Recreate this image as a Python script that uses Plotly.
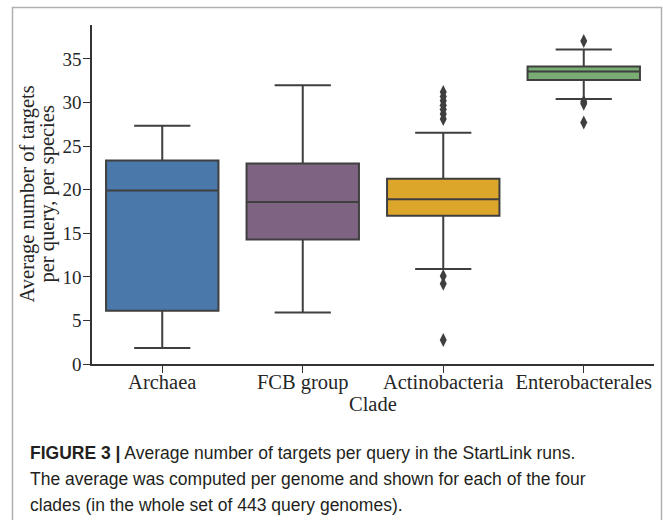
import plotly.graph_objects as go

categories = ["Archaea", "FCB group", "Actinobacteria", "Enterobacterales"]
q1 = [6.1, 14.3, 17.0, 32.6]
medians = [19.9, 18.6, 18.9, 33.55]
q3 = [23.35, 23.0, 21.25, 34.15]
lower_fence = [1.85, 5.9, 10.9, 30.4]
upper_fence = [27.35, 32.0, 26.55, 36.1]
box_colors = ["#4a78aa", "#7e6482", "#dca62a", "#79ad73"]

outlier_clade = (["Actinobacteria"] * 10) + (["Enterobacterales"] * 4)
outlier_values = [31.2, 30.7, 30.2, 29.7, 29.2, 28.7, 28.1, 10.1, 9.2, 2.75,
                  37.05, 30.1, 29.85, 27.7]

y_ticks = [0, 5, 10, 15, 20, 25, 30, 35]
y_title_lines = ["Average number of targets", "per query, per species"]
x_title = "Clade"

caption_lines = [
    "<b>FIGURE 3 |</b> Average number of targets per query in the StartLink runs.",
    "The average was computed per genome and shown for each of the four",
    "clades (in the whole set of 443 query genomes).",
]

W, H = 663, 520
ML, MR, MT, MB = 92, W - 654, 25, H - 364
PW, PH = W - ML - MR, H - MT - MB


def px_x(px):
    return (px - ML) / PW


def px_y(py):
    return (H - MB - py) / PH


LINE = "#3f3f3f"
SERIF = "Liberation Serif, Times New Roman, serif"
SANS = "Liberation Sans, Arial, sans-serif"

fig = go.Figure()
for i, cat in enumerate(categories):
    fig.add_trace(go.Box(
        x=[cat], q1=[q1[i]], median=[medians[i]], q3=[q3[i]],
        lowerfence=[lower_fence[i]], upperfence=[upper_fence[i]],
        fillcolor=box_colors[i], line=dict(color=LINE, width=2),
        width=0.8, whiskerwidth=0.5, boxpoints=False, showlegend=False,
        hoverinfo="skip",
    ))

fig.add_trace(go.Scatter(
    x=outlier_clade, y=outlier_values, mode="markers",
    marker=dict(symbol="diamond-tall", size=10, color=LINE, line=dict(width=0)),
    showlegend=False, hoverinfo="skip",
))

fig.update_layout(
    width=W, height=H,
    margin=dict(l=ML, r=MR, t=MT, b=MB, pad=0),
    paper_bgcolor="white", plot_bgcolor="white",
    font=dict(family=SERIF, size=20, color="#262626"),
    boxmode="overlay",
    xaxis=dict(
        type="category", categoryorder="array", categoryarray=categories,
        range=[-0.5, 3.5], showgrid=False, zeroline=False,
        showline=True, linecolor="#333333", linewidth=1.5,
        ticks="outside", ticklen=7, tickwidth=1.3, tickcolor="#333333",
        ticklabelstandoff=-8,
        tickfont=dict(family=SERIF, size=20.5, color="#262626"),
    ),
    yaxis=dict(
        range=[0, 38.9], tickvals=y_ticks, showgrid=False, zeroline=False,
        showline=True, linecolor="#333333", linewidth=1.5,
        ticks="outside", ticklen=7, tickwidth=1.3, tickcolor="#333333",
        ticklabelstandoff=-2,
        tickfont=dict(family=SERIF, size=19, color="#262626"),
    ),
)

annotations = [
    dict(text=y_title_lines[0], xref="paper", yref="paper", x=px_x(27), y=0.5,
         xanchor="center", yanchor="middle", textangle=-90, showarrow=False,
         font=dict(family=SERIF, size=20.5, color="#262626")),
    dict(text=y_title_lines[1], xref="paper", yref="paper", x=px_x(47), y=0.5,
         xanchor="center", yanchor="middle", textangle=-90, showarrow=False,
         font=dict(family=SERIF, size=20.5, color="#262626")),
    dict(text=x_title, xref="paper", yref="paper", x=0.5, y=px_y(404),
         xanchor="center", yanchor="middle", showarrow=False,
         font=dict(family=SERIF, size=20.5, color="#262626")),
]
for j, (line, cy) in enumerate(zip(caption_lines, [453, 479, 505])):
    annotations.append(dict(
        text=line, xref="paper", yref="paper", x=px_x(28), y=px_y(cy),
        xanchor="left", yanchor="middle", showarrow=False, align="left",
        font=dict(family=SANS, size=17.5, color="#231f20")))
fig.update_layout(annotations=annotations)

fig.add_shape(
    type="path", xref="paper", yref="paper",
    path=(f"M {px_x(12.5)} {px_y(530)} L {px_x(12.5)} {px_y(7.5)} "
          f"L {px_x(661.5)} {px_y(7.5)} L {px_x(661.5)} {px_y(530)}"),
    line=dict(color="#b0b0b0", width=1.5), layer="above",
)

fig.write_html("out.html")
